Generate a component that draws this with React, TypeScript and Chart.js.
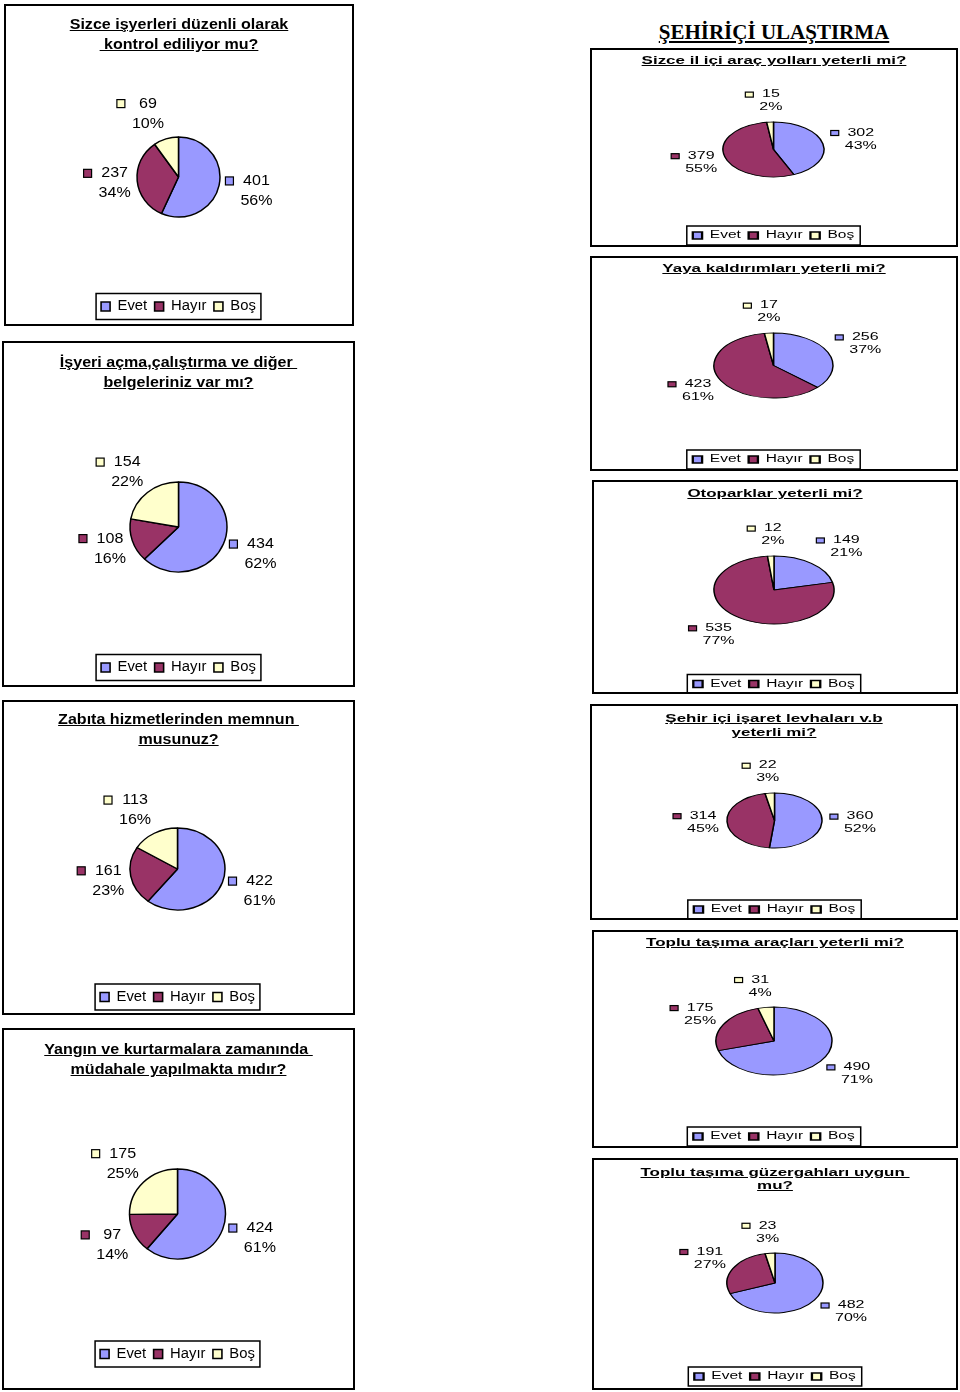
import React, { useEffect, useRef } from 'react';
import { Chart, registerables } from 'chart.js';

Chart.register(...registerables);

// ---------- data ----------
const categories = ['Evet', 'Hayır', 'Boş'];
const sliceColors = ['#9999FF', '#993366', '#FFFFCC'];
const pageTitle = 'ŞEHİRİÇİ ULAŞTIRMA';

const titleKontrol = ['Sizce işyerleri düzenli olarak', ' kontrol ediliyor mu?'];
const valuesKontrol = [401, 237, 69];
const percentsKontrol = [56, 34, 10];

const titleBelge = ['İşyeri açma,çalıştırma ve diğer ', 'belgeleriniz var mı?'];
const valuesBelge = [434, 108, 154];
const percentsBelge = [62, 16, 22];

const titleZabita = ['Zabıta hizmetlerinden memnun ', 'musunuz?'];
const valuesZabita = [422, 161, 113];
const percentsZabita = [61, 23, 16];

const titleYangin = ['Yangın ve kurtarmalara zamanında ', 'müdahale yapılmakta mıdır?'];
const valuesYangin = [424, 97, 175];
const percentsYangin = [61, 14, 25];

const titleYol = ['Sizce il içi araç yolları yeterli mi?'];
const valuesYol = [302, 379, 15];
const percentsYol = [43, 55, 2];

const titleKaldirim = ['Yaya kaldırımları yeterli mi?'];
const valuesKaldirim = [256, 423, 17];
const percentsKaldirim = [37, 61, 2];

const titleOtopark = ['Otoparklar yeterli mi?'];
const valuesOtopark = [149, 535, 12];
const percentsOtopark = [21, 77, 2];

const titleLevha = ['Şehir içi işaret levhaları v.b', 'yeterli mi?'];
const valuesLevha = [360, 314, 22];
const percentsLevha = [52, 45, 3];

const titleArac = ['Toplu taşıma araçları yeterli mi?'];
const valuesArac = [490, 175, 31];
const percentsArac = [71, 25, 4];

const titleGuzergah = ['Toplu taşıma güzergahları uygun ', 'mu?'];
const valuesGuzergah = [482, 191, 23];
const percentsGuzergah = [70, 27, 3];

const chartsData = [
  { title: titleKontrol, values: valuesKontrol, percents: percentsKontrol },
  { title: titleBelge, values: valuesBelge, percents: percentsBelge },
  { title: titleZabita, values: valuesZabita, percents: percentsZabita },
  { title: titleYangin, values: valuesYangin, percents: percentsYangin },
  { title: titleYol, values: valuesYol, percents: percentsYol },
  { title: titleKaldirim, values: valuesKaldirim, percents: percentsKaldirim },
  { title: titleOtopark, values: valuesOtopark, percents: percentsOtopark },
  { title: titleLevha, values: valuesLevha, percents: percentsLevha },
  { title: titleArac, values: valuesArac, percents: percentsArac },
  { title: titleGuzergah, values: valuesGuzergah, percents: percentsGuzergah },
];

// ---------- layout & style ----------
const SANS = "'Liberation Sans', Arial, Helvetica, sans-serif";
const SERIF = "'Liberation Serif', 'Times New Roman', serif";
const BORDER = 2;

const STYLES: any = {
  L: {
    stretch: 1.07, titleSize: 15, titleLineH: 20,
    labelSize: 15, labelLineH: 20, markerW: 8, markerH: 8, markerGap: 7, labelGap: 6.5,
    legendSize: 14, legendBoxW: 8.5, legendBoxH: 9, legendPad: 7, legendStretch: 1.06,
    frameX: 5, frameY: 6, pieBorder: 1.5,
  },
  R: {
    stretch: 1.6, titleSize: 10.6, titleLineH: 13.5,
    labelSize: 10, labelLineH: 13, markerW: 8, markerH: 5, markerGap: 6, labelGap: 8,
    legendSize: 10, legendBoxW: 6, legendBoxH: 7, legendPad: 5, legendStretch: 1.55,
    frameX: 6, frameY: 4.5, pieBorder: 1.5,
  },
};

const layouts = [
  { box: [4, 4, 350, 322], titleY: 24, cx: 178.5, cy: 177, rx: 41.5, ry: 40, legendY: 306.5, side: 'L' },
  { box: [2, 341, 353, 346], titleY: 361.5, cx: 178.5, cy: 527, rx: 48.5, ry: 45, legendY: 667.5, side: 'L' },
  { box: [2, 700, 353, 315], titleY: 718.5, cx: 177.5, cy: 869, rx: 47.5, ry: 41, legendY: 997, side: 'L' },
  { box: [2, 1028, 353, 362], titleY: 1049, cx: 177.5, cy: 1214, rx: 48, ry: 45, legendY: 1354, side: 'L' },
  { box: [590, 48, 368, 199], titleY: 61, cx: 773.5, cy: 149.5, rx: 50.5, ry: 27.5, legendY: 235.5, side: 'R' },
  { box: [590, 256, 368, 215], titleY: 268.5, cx: 773.5, cy: 365.5, rx: 59.5, ry: 32.5, legendY: 459.5, side: 'R' },
  { box: [592, 480, 366, 214], titleY: 494, cx: 774, cy: 590, rx: 60, ry: 34, legendY: 684, side: 'R' },
  { box: [590, 704, 368, 216], titleY: 719, cx: 774.5, cy: 820.5, rx: 47.5, ry: 27.5, legendY: 909.5, side: 'R' },
  { box: [592, 930, 366, 218], titleY: 943, cx: 774, cy: 1041, rx: 58, ry: 34, legendY: 1136.5, side: 'R' },
  { box: [592, 1158, 366, 232], titleY: 1172.5, cx: 775, cy: 1283, rx: 48, ry: 30, legendY: 1376.5, side: 'R' },
];

function PieBox({ title, values, percents, lay }: any) {
  const ref = useRef<HTMLCanvasElement>(null);
  const st = STYLES[lay.side];
  const [bx, by, bw, bh] = lay.box;
  const ox = bx + BORDER;
  const oy = by + BORDER;
  const cw = bw - 2 * BORDER;
  const ch = bh - 2 * BORDER;

  useEffect(() => {
    if (!ref.current) return;
    const pcx = lay.cx - ox;
    const pcy = lay.cy - oy;
    const tY = lay.legendY - oy;
    const P = st.legendPad;
    const itemH = Math.max(st.legendSize, st.legendBoxH);
    const padBottom = ch - tY - 10 - itemH / 2;
    const legendTop = tY - itemH / 2 - P;
    const padTop = Math.max(0, 2 * pcy - legendTop);
    const padLeft = Math.max(0, 2 * pcx - cw);
    const padRight = Math.max(0, cw - 2 * pcx);
    const squash = lay.ry / lay.rx;
    const lk = st.legendStretch;

    const legendCenter = (chart: any) => (chart.legend.left + chart.legend.right) / 2;

    const decor = {
      id: 'pieDecor',
      beforeDraw(chart: any) {
        const ctx = chart.ctx;
        const lcx = legendCenter(chart);
        ctx.save();
        ctx.translate(lcx, 0);
        ctx.scale(lk, 1);
        ctx.translate(-lcx, 0);
      },
      beforeDatasetsDraw(chart: any) {
        const ctx = chart.ctx;
        ctx.restore();
        const el: any = chart.getDatasetMeta(0).data[0];
        ctx.save();
        ctx.translate(el.x, el.y);
        ctx.scale(1, squash);
        ctx.translate(-el.x, -el.y);
      },
      afterDatasetsDraw(chart: any) {
        const ctx = chart.ctx;
        ctx.restore();
        const meta = chart.getDatasetMeta(0);
        const k = st.stretch;
        ctx.save();
        ctx.font = `${st.labelSize}px ${SANS}`;
        ctx.textBaseline = 'middle';
        ctx.textAlign = 'center';
        meta.data.forEach((arc: any, i: number) => {
          const mid = (arc.startAngle + arc.endAngle) / 2;
          const c = Math.cos(mid);
          const s = Math.sin(mid);
          const ax = arc.x + (arc.outerRadius + st.labelGap) * c;
          const ay = arc.y + (arc.outerRadius * squash + st.labelGap) * s;
          const l1 = String(values[i]);
          const l2 = `${percents[i]}%`;
          const tw = Math.max(ctx.measureText(l1).width, ctx.measureText(l2).width) * k;
          const W = st.markerW + st.markerGap + tw;
          const H = 2 * st.labelLineH;
          const fx = Math.max(-1, Math.min(1, c * 4.5));
          const left = ax + (fx * W) / 2 - W / 2;
          const top = ay + (s * H) / 2 - H / 2;
          const tx = left + st.markerW + st.markerGap + tw / 2;
          const y1 = top + st.labelLineH / 2;
          const y2 = y1 + st.labelLineH;
          ctx.fillStyle = sliceColors[i];
          ctx.fillRect(left, y1 - st.markerH / 2, st.markerW, st.markerH);
          ctx.lineWidth = 1.2;
          ctx.strokeStyle = '#000';
          ctx.strokeRect(left, y1 - st.markerH / 2, st.markerW, st.markerH);
          ctx.fillStyle = '#000';
          [[l1, y1], [l2, y2]].forEach(([t, yy]: any) => {
            ctx.save();
            ctx.translate(tx, yy);
            ctx.scale(k, 1);
            ctx.fillText(t, 0, 0);
            ctx.restore();
          });
        });
        ctx.restore();
      },
      afterDraw(chart: any) {
        const ctx = chart.ctx;
        const hb = chart.legend.legendHitBoxes;
        if (!hb || !hb.length) return;
        const lcx = legendCenter(chart);
        const tx = (x: number) => lcx + (x - lcx) * lk;
        const l = tx(Math.min(...hb.map((h: any) => h.left)));
        const r = tx(Math.max(...hb.map((h: any) => h.left + h.width)));
        const t = hb[0].top;
        const b = t + hb[0].height;
        ctx.save();
        ctx.strokeStyle = '#000';
        ctx.lineWidth = 1.5;
        ctx.strokeRect(l - st.frameX, t - st.frameY, r - l + 2 * st.frameX, b - t + 2 * st.frameY);
        ctx.restore();
      },
    };

    const chart = new Chart(ref.current, {
      type: 'pie',
      data: {
        labels: categories,
        datasets: [
          {
            data: values,
            backgroundColor: sliceColors,
            borderColor: '#000',
            borderWidth: st.pieBorder,
            radius: lay.rx,
          } as any,
        ],
      },
      options: {
        responsive: false,
        animation: false,
        devicePixelRatio: 1,
        events: [],
        layout: { padding: { top: padTop, bottom: padBottom, left: padLeft, right: padRight } },
        plugins: {
          legend: {
            display: true,
            position: 'bottom',
            labels: {
              boxWidth: st.legendBoxW,
              boxHeight: st.legendBoxH,
              padding: P,
              color: '#000',
              font: { family: SANS, size: st.legendSize },
            },
          },
          title: { display: false },
          tooltip: { enabled: false },
        },
      } as any,
      plugins: [decor],
    });
    return () => chart.destroy();
  }, []);

  return (
    <div
      style={{
        position: 'absolute',
        left: bx,
        top: by,
        width: bw,
        height: bh,
        border: `${BORDER}px solid #000`,
        boxSizing: 'border-box',
        background: '#fff',
      }}
    >
      <canvas
        ref={ref}
        width={cw}
        height={ch}
        style={{ position: 'absolute', left: 0, top: 0, width: cw, height: ch }}
      />
      <div
        style={{
          position: 'absolute',
          left: 0,
          width: cw,
          top: lay.titleY - oy - st.titleLineH / 2,
          textAlign: 'center',
          fontFamily: SANS,
          fontWeight: 'bold',
          fontSize: st.titleSize,
          lineHeight: `${st.titleLineH}px`,
          textDecoration: 'underline',
          whiteSpace: 'pre',
          color: '#000',
          transform: `scaleX(${st.stretch})`,
          transformOrigin: 'center',
        }}
      >
        {title.map((line: string, i: number) => (
          <div key={i}>{line}</div>
        ))}
      </div>
    </div>
  );
}

export default function App() {
  return (
    <div
      style={{
        position: 'absolute',
        left: 0,
        top: 0,
        width: 960,
        height: 1392,
        background: '#fff',
        overflow: 'hidden',
      }}
    >
      <div
        style={{
          position: 'absolute',
          left: 590,
          width: 368,
          top: 19,
          textAlign: 'center',
          fontFamily: SERIF,
          fontWeight: 'bold',
          fontSize: 21,
          lineHeight: '26px',
          textDecoration: 'underline',
          color: '#000',
        }}
      >
        {pageTitle}
      </div>
      {chartsData.map((d, i) => (
        <PieBox key={i} title={d.title} values={d.values} percents={d.percents} lay={layouts[i]} />
      ))}
    </div>
  );
}
